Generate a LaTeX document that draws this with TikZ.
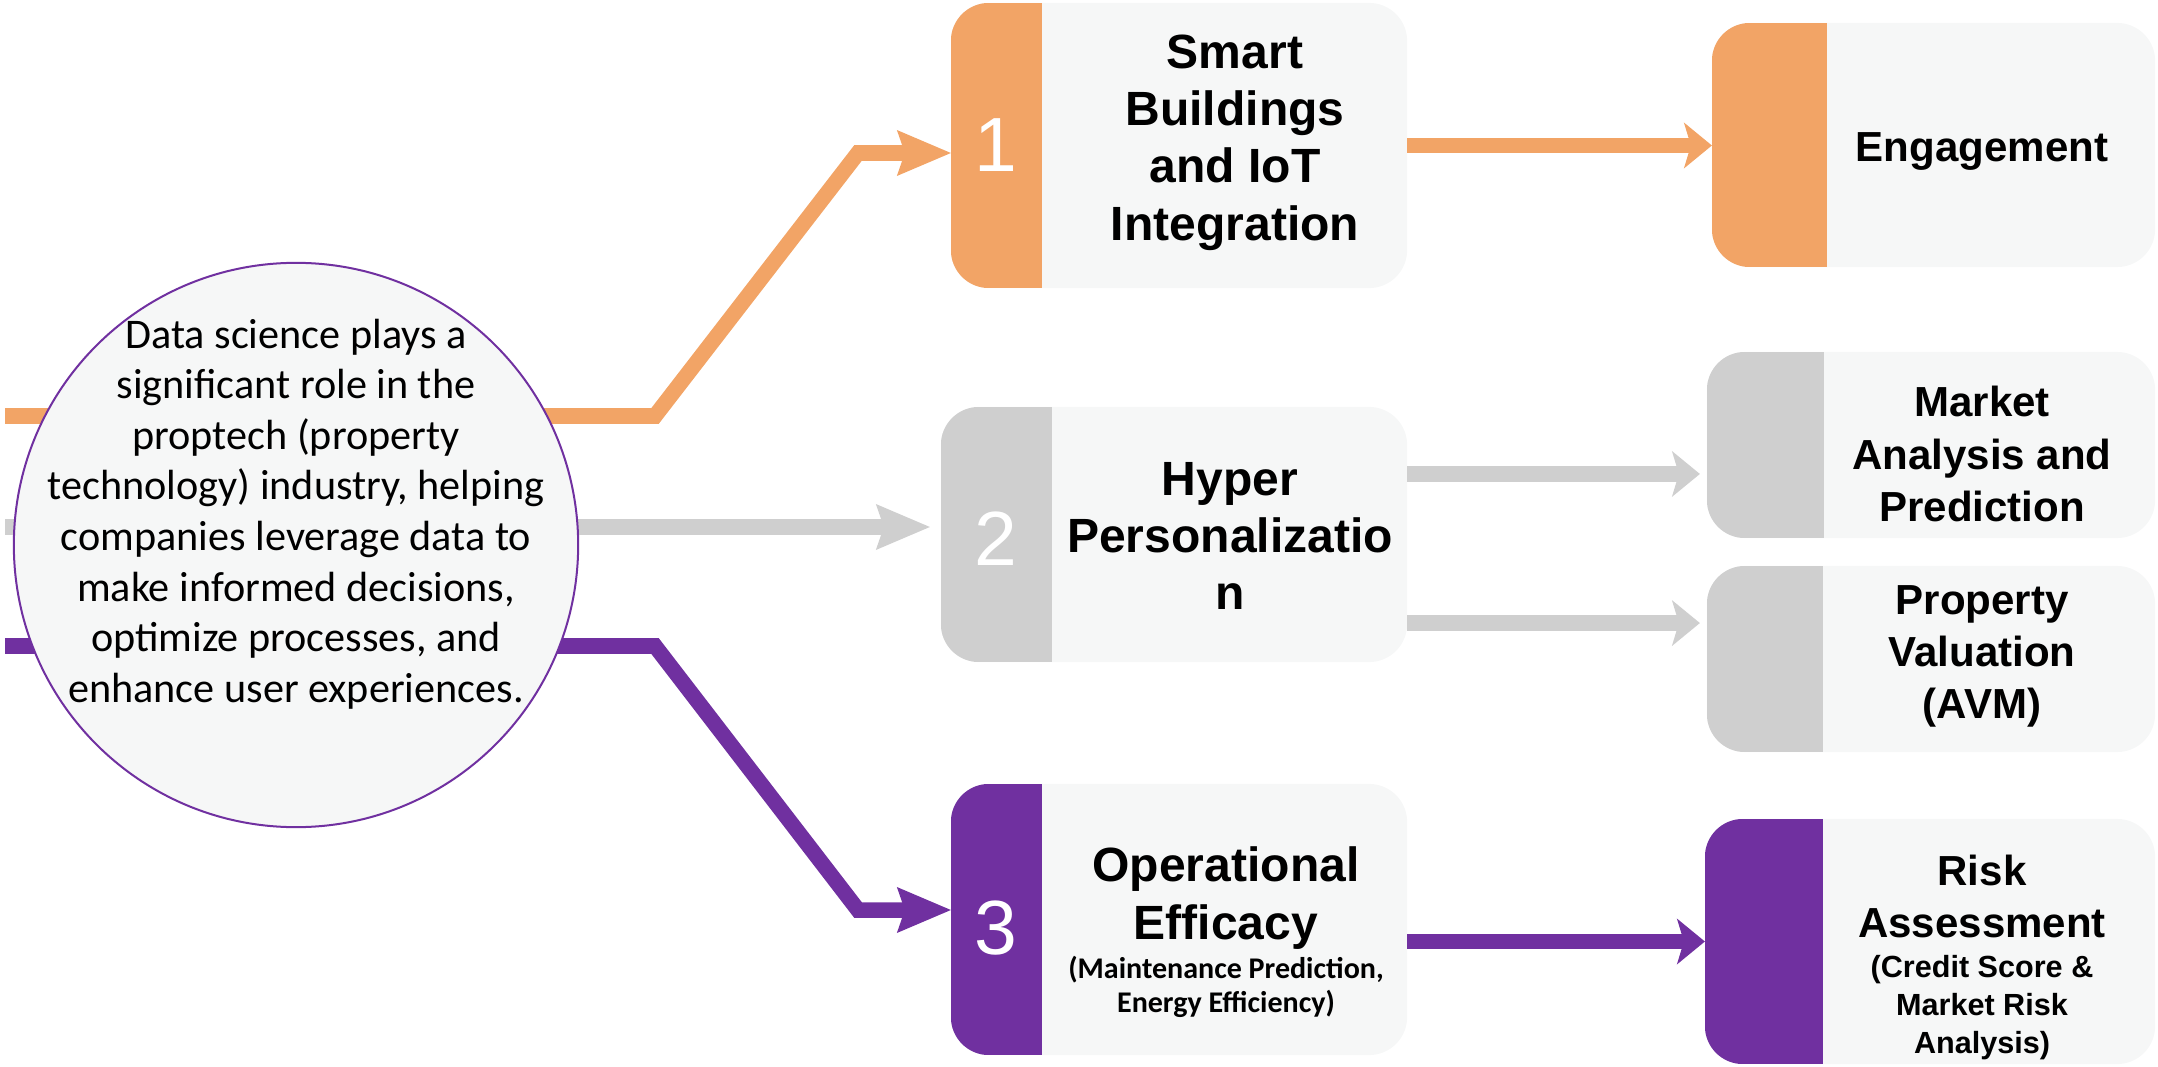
\documentclass[tikz,border=0pt]{standalone}
\usepackage{fontspec}
\setmainfont{Liberation Sans}
\newfontfamily\carlito{Carlito}
\usetikzlibrary{arrows.meta}

\definecolor{orangeC}{RGB}{242,164,102}
\definecolor{grayC}{RGB}{207,207,207}
\definecolor{purpleC}{RGB}{112,48,160}
\definecolor{cardbg}{RGB}{246,247,247}

\pgfdeclarelayer{background}
\pgfsetlayers{background,main}

\begin{document}
\begin{tikzpicture}[x=0.01cm, y=-0.01cm,
  % card: light rounded box with a coloured tab on its left side
  card/.style 2 args={rectangle, fill=cardbg, rounded corners=0.38cm,
    inner sep=0pt, outer sep=0pt,
    path picture={\fill[#1, sharp corners] (path picture bounding box.north west)
      rectangle ([xshift=#2]path picture bounding box.south west);}},
  title/.style={align=center, inner sep=0pt,
    font=\fontsize{13.66pt}{16.3pt}\selectfont\bfseries},
  rtitle/.style={align=center, inner sep=0pt,
    font=\fontsize{11.95pt}{14.8pt}\selectfont\bfseries},
  rsub/.style={align=center, inner sep=0pt,
    font=\fontsize{8.7pt}{10.7pt}\selectfont\bfseries},
  csub/.style={align=center, inner sep=0pt,
    font=\carlito\bfseries\fontsize{8.54pt}{9.67pt}\selectfont},
  num/.style={text=white, inner sep=0pt,
    font=\fontsize{21.85pt}{24pt}\selectfont},
  hubtext/.style={align=center, inner sep=0pt,
    font=\carlito\fontsize{12pt}{14.4pt}\selectfont},
  conn/.style={line width=0.155cm, line join=miter},
  inTip/.style={-{Stealth[length=0.54cm, width=0.46cm, inset=0.08cm, line width=0pt]}},
  outTip/.style={-{Stealth[length=0.28cm, width=0.46cm, inset=0.07cm, line width=0pt]}}
]
\useasboundingbox (0,0) rectangle (2158,1067);

% central circle
\node[circle, minimum size=5.64cm, fill=cardbg, draw=purpleC, line width=0.02cm,
      inner sep=0pt, outer sep=0pt] (hub) at (296,545) {};
\node[hubtext] (hubt) at (296,514) {Data science plays a\\significant role in the\\proptech (property\\technology) industry, helping\\companies leverage data to\\make informed decisions,\\optimize processes, and\\enhance user experiences.};

% middle column
\node[card={orangeC}{0.91cm}, minimum width=4.56cm, minimum height=2.85cm] (b1) at (1179,145.5) {};
\node[card={grayC}{1.11cm}, minimum width=4.66cm, minimum height=2.55cm] (b2) at (1174,534.5) {};
\node[card={purpleC}{0.91cm}, minimum width=4.56cm, minimum height=2.71cm] (b3) at (1179,919.5) {};

\node[num] (n1) at (996,145) {1};
\node[num] (n2) at (996,539) {2};
\node[num] (n3) at (996,928) {3};

\node[title] (t1) at (1235,142.5) {Smart\\Buildings\\and IoT\\Integration};
\node[title] (t2) at (1230,536) {Hyper\\Personalizatio\\n};
\node[title] (t3) at (1226,898) {Operational\\Efficacy};
\node[csub] (t3s) at (1226,986.5) {(Maintenance Prediction,\\Energy Efficiency)};

% right column
\node[card={orangeC}{1.15cm}, minimum width=4.43cm, minimum height=2.44cm] (e) at (1933.5,145) {};
\node[card={grayC}{1.17cm}, minimum width=4.48cm, minimum height=1.86cm] (m) at (1931,445) {};
\node[card={grayC}{1.16cm}, minimum width=4.48cm, minimum height=1.86cm] (p) at (1931,659) {};
\node[card={purpleC}{1.18cm}, minimum width=4.50cm, minimum height=2.45cm] (r) at (1930,941.5) {};

\node[rtitle, anchor=base] (te) at (1982,162) {Engagement};
\node[rtitle] (tm) at (1982,454) {Market\\Analysis and\\Prediction};
\node[rtitle] (tp) at (1982,656) {Property\\Valuation\\(AVM)};
\node[rtitle] (tr) at (1982,896.5) {Risk\\Assessment};
\node[rsub] (trs) at (1982,1007.7) {(Credit Score \&\\Market Risk\\Analysis)};

% connectors
\coordinate (o0) at (5,416);
\coordinate (g0) at (5,527);
\coordinate (p0) at (5,646);
\begin{pgfonlayer}{background}
  \draw[conn, orangeC, inTip] (o0) -- ++(650,0) -- ++(203,-263) -- ([yshift=-0.075cm]b1.west);
  \draw[conn, grayC, inTip, shorten >=0.11cm] (g0) -- ([yshift=0.075cm]b2.west);
  \draw[conn, purpleC, inTip] (p0) -- ++(650,0) -- ++(203,264) -- ([yshift=0.095cm]b3.west);
\end{pgfonlayer}

\draw[conn, orangeC, outTip] (b1.east) -- (b1.east -| e.west);
\draw[conn, grayC, outTip, shorten >=0.07cm] ([yshift=0.605cm]b2.east) -- ([yshift=0.605cm]b2.east -| m.west);
\draw[conn, grayC, outTip, shorten >=0.07cm] ([yshift=-0.885cm]b2.east) -- ([yshift=-0.885cm]b2.east -| p.west);
\draw[conn, purpleC, outTip] (b3.east |- r.west) -- (r.west);
\end{tikzpicture}
\end{document}
